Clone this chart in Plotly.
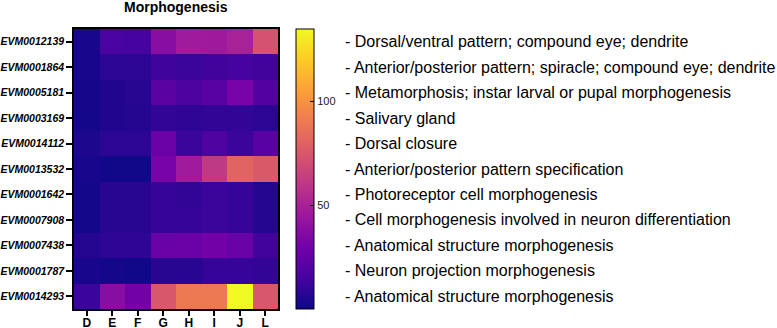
import plotly.graph_objects as go

columns = ["D", "E", "F", "G", "H", "I", "J", "L"]
genes = ["EVM0012139", "EVM0001864", "EVM0005181", "EVM0003169", "EVM0014112",
         "EVM0013532", "EVM0001642", "EVM0007908", "EVM0007438", "EVM0001787",
         "EVM0014293"]
terms = ["Dorsal/ventral pattern; compound eye; dendrite",
         "Anterior/posterior pattern; spiracle; compound eye; dendrite",
         "Metamorphosis; instar larval or pupal morphogenesis",
         "Salivary gland",
         "Dorsal closure",
         "Anterior/posterior pattern specification",
         "Photoreceptor cell morphogenesis",
         "Cell morphogenesis involved in neuron differentiation",
         "Anatomical structure morphogenesis",
         "Neuron projection morphogenesis",
         "Anatomical structure morphogenesis"]
values = [
    [3, 16, 15, 38, 47, 46, 50, 73],
    [3, 8, 8, 13, 12, 14, 15, 14],
    [2, 5, 7, 22, 17, 21, 32, 19],
    [2, 5, 6, 10, 9, 10, 10, 8],
    [4, 8, 8, 27, 12, 18, 12, 21],
    [3, 1, 1, 32, 47, 61, 81, 76],
    [2, 7, 7, 11, 10, 12, 11, 6],
    [2, 7, 7, 11, 11, 12, 11, 6],
    [6, 9, 9, 26, 27, 30, 26, 14],
    [3, 2, 1, 7, 7, 11, 11, 10],
    [12, 38, 30, 75, 90, 90, 135, 75],
]
cbar_ticks = [50, 100]
title_text = "Morphogenesis"

FONT = "Liberation Sans, Arial, sans-serif"

fig = go.Figure(go.Heatmap(
    z=values, x=columns, y=genes,
    colorscale="Plasma", zmin=0, zmax=135,
    xgap=0, ygap=0,
    colorbar=dict(
        x=1.088, xanchor="left", xpad=0, y=0.5, yanchor="middle",
        len=1, lenmode="fraction", thickness=18, thicknessmode="pixels",
        ypad=0,
        outlinecolor="black", outlinewidth=1,
        tickvals=cbar_ticks, ticks="inside", ticklen=4, tickcolor="black",
        tickfont=dict(family=FONT, size=11, color="#222"),
    ),
))

for g, t in zip(genes, terms):
    fig.add_annotation(x=1.3186, xref="paper", xanchor="left", y=g, yref="y",
                       text="- " + t, showarrow=False,
                       font=dict(family=FONT, size=16, color="black"))

fig.add_annotation(x=0.5, xref="paper", y=1, yref="paper", yanchor="middle", yshift=22,
                   text="<b>" + title_text + "</b>", showarrow=False,
                   font=dict(family=FONT, size=14, color="black"))

fig.update_xaxes(
    automargin=False,
    showline=True, mirror=True, linecolor="black", linewidth=1.5,
    ticks="outside", ticklen=5, tickwidth=1.5, tickcolor="black",
    ticklabelstandoff=-3,
    tickfont=dict(family=FONT, size=12, color="black", weight="bold"),
    showgrid=False, zeroline=False,
)
fig.update_yaxes(
    automargin=False,
    autorange="reversed",
    showline=True, mirror=True, linecolor="black", linewidth=1.5,
    ticks="outside", ticklen=6, tickwidth=1.5, tickcolor="black",
    tickfont=dict(family=FONT, size=10.5, color="black", weight="bold", style="italic"),
    showgrid=False, zeroline=False,
)
fig.update_layout(
    width=777, height=328,
    margin=dict(l=74, r=499, t=29, b=19, autoexpand=False),
    paper_bgcolor="white", plot_bgcolor="white",
    font=dict(family=FONT),
)
fig.write_html("out.html",
               config={"displayModeBar": False},
               post_script="document.body.style.margin='0';document.body.style.overflow='hidden';")
